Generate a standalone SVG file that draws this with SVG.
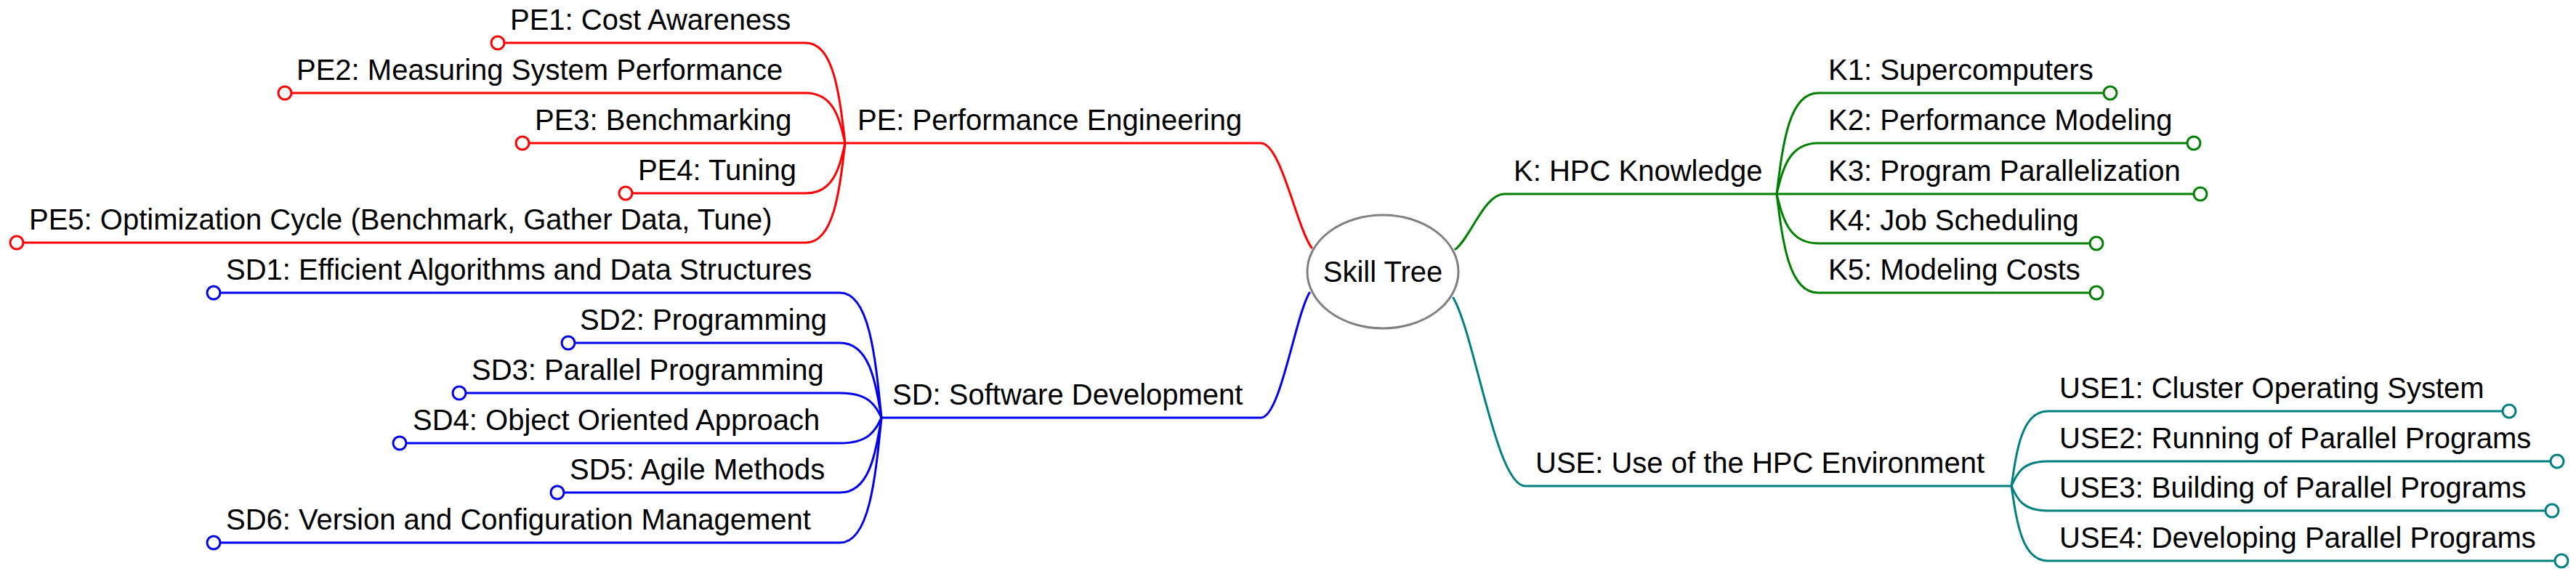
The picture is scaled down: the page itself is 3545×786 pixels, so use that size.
<svg xmlns="http://www.w3.org/2000/svg" width="3545" height="786" viewBox="0 0 3545 786">
<style>
text{font-family:"Liberation Sans",Arial,sans-serif;font-size:40px;fill:#000}
.c{fill:none;stroke-width:3;stroke-linecap:round;stroke-linejoin:round}
.pe{stroke:#ff0000}.sd{stroke:#0000ee}.k{stroke:#008000}.u{stroke:#008080}
.dot{fill:#fff;stroke-width:3}
</style>
<rect width="3545" height="786" fill="#fff"/>
<g id="connectors">
<path class="c pe" d="M1805,341 C1784,312 1763,197 1735,197 L1163,197"/>
<path class="c pe" d="M1163,197 C1155,128 1147,59 1109,59 L694,59"/>
<path class="c pe" d="M1163,197 C1155,162.5 1147,128 1109,128 L401,128"/>
<path class="c pe" d="M1163,197 L728,197"/>
<path class="c pe" d="M1163,197 C1155,231.5 1147,266 1109,266 L870,266"/>
<path class="c pe" d="M1163,197 C1155,265.5 1147,334 1109,334 L32,334"/>
<path class="c sd" d="M1802,403 C1782,437 1762,575 1735,575 L1213,575"/>
<path class="c sd" d="M1213,575 C1204.5,489 1196,403 1156,403 L303,403"/>
<path class="c sd" d="M1213,575 C1204.5,523.5 1196,472 1156,472 L791,472"/>
<path class="c sd" d="M1213,575 C1204.5,558 1196,541 1156,541 L641,541"/>
<path class="c sd" d="M1213,575 C1204.5,592.5 1196,610 1156,610 L559,610"/>
<path class="c sd" d="M1213,575 C1204.5,626.5 1196,678 1156,678 L776,678"/>
<path class="c sd" d="M1213,575 C1204.5,661 1196,747 1156,747 L303,747"/>
<path class="c k" d="M2003,343 C2023,328 2043,267 2070,267 L2445,267"/>
<path class="c k" d="M2445,267 C2453.5,197.5 2462,128 2502,128 L2895,128"/>
<path class="c k" d="M2445,267 C2453.5,232 2462,197 2502,197 L3010,197"/>
<path class="c k" d="M2445,267 L3019,267"/>
<path class="c k" d="M2445,267 C2453.5,301 2462,335 2502,335 L2876,335"/>
<path class="c k" d="M2445,267 C2453.5,335 2462,403 2502,403 L2876,403"/>
<path class="c u" d="M2000,410 C2030,462 2059,669 2099,669 L2768,669"/>
<path class="c u" d="M2768,669 C2775.5,617.5 2783,566 2818,566 L3444,566"/>
<path class="c u" d="M2768,669 C2775.5,652 2783,635 2818,635 L3510,635"/>
<path class="c u" d="M2768,669 C2775.5,686 2783,703 2818,703 L3503,703"/>
<path class="c u" d="M2768,669 C2775.5,720.5 2783,772 2818,772 L3516,772"/>
</g>
<g id="root">
<ellipse cx="1903" cy="374" rx="104" ry="78" fill="#fff" stroke="#808080" stroke-width="3"/>
<text x="1903" y="388" text-anchor="middle">Skill Tree</text>
</g>
<g id="PE"><text x="1180" y="179">PE: Performance Engineering</text></g>
<g id="PE1"><circle class="dot pe" cx="685" cy="59" r="9"/><text x="702" y="41">PE1: Cost Awareness</text></g>
<g id="PE2"><circle class="dot pe" cx="392" cy="128" r="9"/><text x="408" y="110">PE2: Measuring System Performance</text></g>
<g id="PE3"><circle class="dot pe" cx="719" cy="197" r="9"/><text x="736" y="179">PE3: Benchmarking</text></g>
<g id="PE4"><circle class="dot pe" cx="861" cy="266" r="9"/><text x="878" y="248">PE4: Tuning</text></g>
<g id="PE5"><circle class="dot pe" cx="23" cy="334" r="9"/><text x="40" y="316">PE5: Optimization Cycle (Benchmark, Gather Data, Tune)</text></g>
<g id="SD"><text x="1228" y="557">SD: Software Development</text></g>
<g id="SD1"><circle class="dot sd" cx="294" cy="403" r="9"/><text x="311" y="385">SD1: Efficient Algorithms and Data Structures</text></g>
<g id="SD2"><circle class="dot sd" cx="782" cy="472" r="9"/><text x="798" y="454">SD2: Programming</text></g>
<g id="SD3"><circle class="dot sd" cx="632" cy="541" r="9"/><text x="649" y="523">SD3: Parallel Programming</text></g>
<g id="SD4"><circle class="dot sd" cx="550" cy="610" r="9"/><text x="568" y="592">SD4: Object Oriented Approach</text></g>
<g id="SD5"><circle class="dot sd" cx="767" cy="678" r="9"/><text x="784" y="660">SD5: Agile Methods</text></g>
<g id="SD6"><circle class="dot sd" cx="294" cy="747" r="9"/><text x="311" y="729">SD6: Version and Configuration Management</text></g>
<g id="K"><text x="2083" y="249">K: HPC Knowledge</text></g>
<g id="K1"><circle class="dot k" cx="2904" cy="128" r="9"/><text x="2516" y="110">K1: Supercomputers</text></g>
<g id="K2"><circle class="dot k" cx="3019" cy="197" r="9"/><text x="2516" y="179">K2: Performance Modeling</text></g>
<g id="K3"><circle class="dot k" cx="3028" cy="267" r="9"/><text x="2516" y="249">K3: Program Parallelization</text></g>
<g id="K4"><circle class="dot k" cx="2885" cy="335" r="9"/><text x="2516" y="317">K4: Job Scheduling</text></g>
<g id="K5"><circle class="dot k" cx="2885" cy="403" r="9"/><text x="2516" y="385">K5: Modeling Costs</text></g>
<g id="USE"><text x="2113" y="651">USE: Use of the HPC Environment</text></g>
<g id="USE1"><circle class="dot u" cx="3453" cy="566" r="9"/><text x="2834" y="548">USE1: Cluster Operating System</text></g>
<g id="USE2"><circle class="dot u" cx="3519" cy="635" r="9"/><text x="2834" y="617">USE2: Running of Parallel Programs</text></g>
<g id="USE3"><circle class="dot u" cx="3512" cy="703" r="9"/><text x="2834" y="685">USE3: Building of Parallel Programs</text></g>
<g id="USE4"><circle class="dot u" cx="3525" cy="772" r="9"/><text x="2834" y="754">USE4: Developing Parallel Programs</text></g>
</svg>
